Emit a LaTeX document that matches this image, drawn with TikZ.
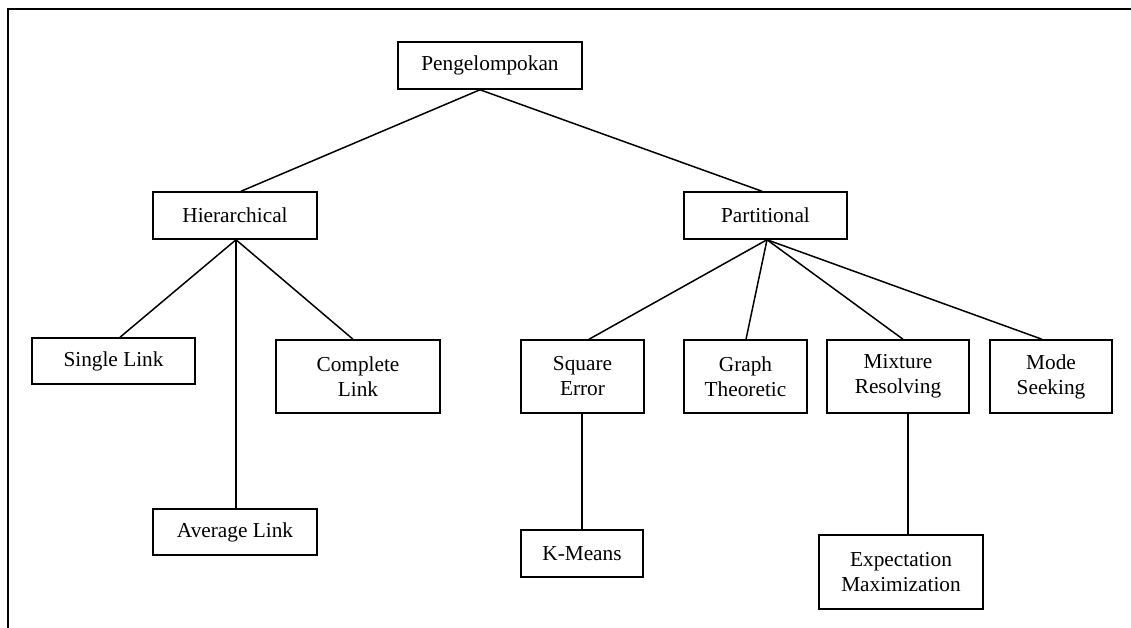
\documentclass[tikz,border=0pt]{standalone}
\usepackage{fontspec}
\setmainfont{Liberation Serif}
\begin{document}
\begin{tikzpicture}[x=1pt,y=-1pt,
  box/.style={draw, line width=1.5pt, inner sep=0pt, align=center,
    font=\fontsize{21.3}{25}\selectfont},
  wide/.style={box, minimum width=164pt, minimum height=47pt},
  tall/.style={box, minimum height=73pt},
  link/.style={line width=1.5pt}]
\useasboundingbox (0,0) rectangle (1131,627);
\coordinate (fb) at (8,640);
\coordinate (fc) at (8,9);
\coordinate (fr) at (1140,9);
\draw[line width=1.5pt] (fb) -- (fc) -- (fr);

\node[box, minimum width=184pt, minimum height=47pt] (peng) at (490,65.5) {Pengelompokan};
\node[wide] (hier) at (235,215.5) {Hierarchical};
\node[wide, minimum width=163pt] (part) at (765.5,215.5) {Partitional};
\node[wide, minimum width=163pt, minimum height=46pt] (single) at (113.5,361) {Single Link};
\node[tall, minimum width=164pt] (complete) at (358,376.5) {Complete\\Link};
\node[wide, minimum height=46pt] (average) at (235,532) {Average Link};
\node[tall, minimum width=123pt] (square) at (582.5,376.5) {Square\\Error};
\node[tall, minimum width=123pt] (graph) at (745.5,376.5) {Graph\\Theoretic};
\node[tall, minimum width=142pt] (mixture) at (898,376.5) {Mixture\\Resolving};
\node[tall, minimum width=122pt] (mode) at (1051,376.5) {Mode\\Seeking};
\node[wide, minimum width=122pt] (kmeans) at (582,553.5) {K-Means};
\node[tall, minimum width=164pt, minimum height=74pt] (em) at (901,572) {Expectation\\Maximization};

\draw[link] ([xshift=-10pt]peng.south) -- ([xshift=6pt]hier.north);
\draw[link] ([xshift=-10pt]peng.south) -- ([xshift=-3.5pt]part.north);
\draw[link] ([xshift=1pt]hier.south) -- ([xshift=6.5pt]single.north);
\draw[link] ([xshift=1pt]hier.south) -- ([xshift=1pt]average.north);
\draw[link] ([xshift=1pt]hier.south) -- ([xshift=-5pt]complete.north);
\draw[link] ([xshift=1.5pt]part.south) -- ([xshift=6.5pt]square.north);
\draw[link] ([xshift=1.5pt]part.south) -- ([xshift=0.5pt]graph.north);
\draw[link] ([xshift=1.5pt]part.south) -- ([xshift=5pt]mixture.north);
\draw[link] ([xshift=1.5pt]part.south) -- ([xshift=-9pt]mode.north);
\draw[link] ([xshift=-0.5pt]square.south) -- (kmeans.north);
\draw[link] ([xshift=10pt]mixture.south) -- ([xshift=7pt]em.north);
\end{tikzpicture}
\end{document}
